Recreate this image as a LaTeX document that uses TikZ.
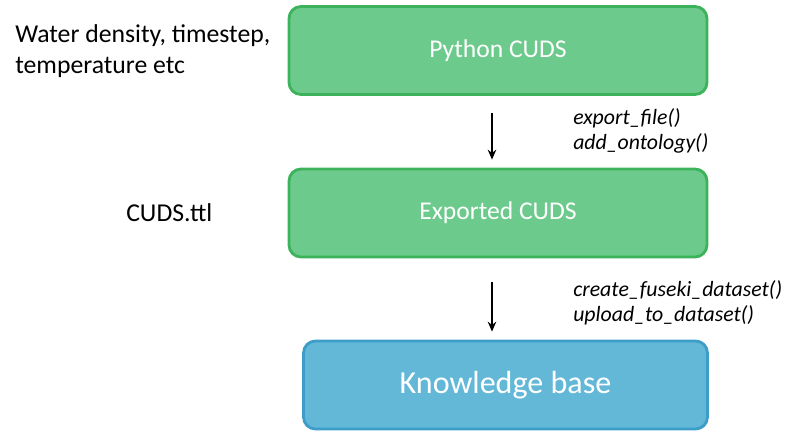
\documentclass[tikz,border=0pt]{standalone}
\usepackage{fontspec}
\setmainfont{Carlito}
\usepackage{tikz}
\usetikzlibrary{arrows.meta}

\definecolor{cudsfill}{HTML}{6CCB8C}
\definecolor{cudsline}{HTML}{3CB25A}
\definecolor{kbfill}{HTML}{62B8D6}
\definecolor{kbline}{HTML}{3B9DC8}

\begin{document}
\begin{tikzpicture}[
  box/.style={rectangle,rounded corners=0.3cm,line width=2pt,text=white,
    minimum height=2.2cm},
  cuds/.style={box,draw=cudsline,fill=cudsfill,minimum width=10.45cm,
    font=\fontsize{18.2}{22}\selectfont},
  kb/.style={box,draw=kbline,fill=kbfill,minimum width=10.1cm,
    font=\fontsize{22.8}{26}\selectfont},
  call/.style={anchor=west,align=left,inner sep=0pt,
    font=\fontsize{15.5}{17.7}\selectfont\itshape},
  side/.style={anchor=west,align=left,inner sep=0pt,
    font=\fontsize{18.3}{22}\selectfont},
  arr/.style={-{Stealth[length=7pt,width=6pt]},line width=1.2pt}
]
  \useasboundingbox (0,0) rectangle (19.675,-10.85);

  \node[cuds] (py) at (12.45,-1.2625) {Python CUDS};
  \node[cuds] (ex) at (12.45,-5.325)  {Exported CUDS};
  \node[kb]   (kb) at (12.6375,-9.625) {Knowledge base};

  \draw[arr] ([xshift=-0.15cm,yshift=-0.42cm]py.south) -- ([xshift=-0.15cm,yshift=0.2cm]ex.north);
  \draw[arr] ([xshift=-0.15cm,yshift=-0.6cm]ex.south) -- ([xshift=-0.3375cm,yshift=0.2cm]kb.north);

  \node[call] (exportcalls) at (14.325,-3.2625) {export\_file()\\add\_ontology()};
  \node[call] (fusekicalls) at (14.325,-7.575)  {create\_fuseki\_dataset()\\upload\_to\_dataset()};

  \node[side] (vars) at (0.375,-1.2875) {Water density, timestep,\\temperature etc};
  \node[side] (ttl)  at (3.15,-5.325) {CUDS.ttl};
\end{tikzpicture}
\end{document}
